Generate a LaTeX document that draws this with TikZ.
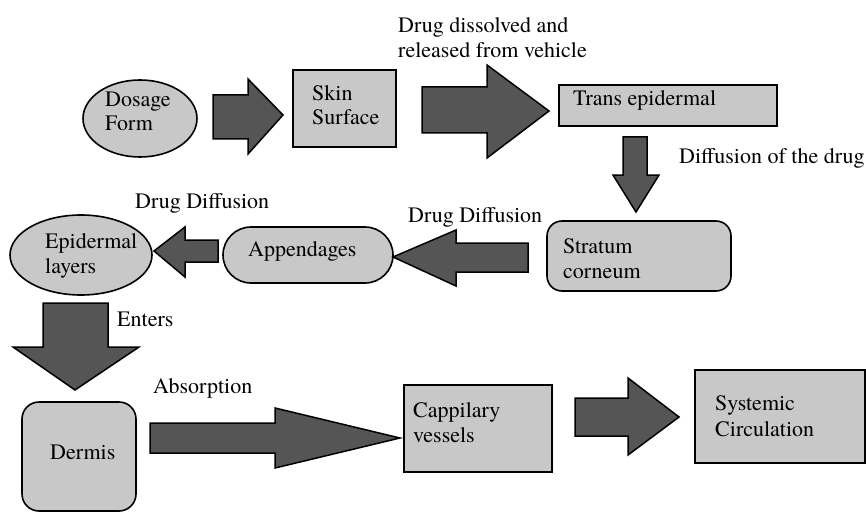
\documentclass[tikz,border=0pt]{standalone}
\usepackage{fontspec}
\setmainfont{TeX Gyre Termes}
\usetikzlibrary{shapes.geometric}
\definecolor{boxgray}{RGB}{200,200,200}
\definecolor{arrowgray}{RGB}{85,85,85}
\begin{document}
\begin{tikzpicture}[x=1pt,y=-1pt,
  box/.style={draw=black, fill=boxgray, line width=1.6pt, inner sep=0pt},
  oval/.style={box, ellipse},
  fat/.style={draw=black, fill=arrowgray, line width=1.5pt, line join=miter},
  lbl/.style={anchor=base west, inner sep=0pt, font=\rmfamily\fontsize{22}{25}\selectfont}]
\useasboundingbox (0,0) rectangle (866,513);

% shapes
\node[oval, minimum width=114, minimum height=77] (dosage) at (140,118.5) {};
\node[box, minimum width=103, minimum height=77] (skin) at (344.5,108.5) {};
\node[box, minimum width=218, minimum height=41] (trans) at (668,105.5) {};
\node[box, rounded corners=15, minimum width=184, minimum height=70] (stratum) at (639,256) {};
\node[box, rounded corners=28, minimum width=170, minimum height=56] (append) at (308,255) {};
\node[oval, minimum width=142, minimum height=80] (epid) at (81,255) {};
\node[box, rounded corners=17, minimum width=114, minimum height=109] (dermis) at (79,456.5) {};
\node[box, minimum width=148, minimum height=87] (capp) at (478,428.5) {};
\node[box, minimum width=170, minimum height=93] (syst) at (780,416.5) {};

% block arrows
\draw[fat] (213,95) -- (248,95) -- (248,79) -- (283,115) -- (248,154) -- (248,139) -- (213,139) -- cycle;
\draw[fat] (422,87) -- (487,87) -- (487,65) -- (549,111) -- (487,158) -- (487,133) -- (422,133) -- cycle;
\draw[fat] (623,137) -- (647,137) -- (647,175) -- (659,175) -- (636,212) -- (613,175) -- (623,175) -- cycle;
\draw[fat] (528,243) -- (456,243) -- (456,230) -- (393,257) -- (456,286) -- (456,272) -- (528,272) -- cycle;
\draw[fat] (218,240) -- (185,240) -- (185,227) -- (154,251) -- (185,277) -- (185,262) -- (218,262) -- cycle;
\draw[fat] (43,303) -- (108,303) -- (108,347) -- (139,347) -- (75,390) -- (13,347) -- (43,347) -- cycle;
\draw[fat] (150,423) -- (275,423) -- (275,408) -- (400,438) -- (275,468) -- (275,453) -- (150,453) -- cycle;
\draw[fat] (575,398) -- (628,398) -- (628,378) -- (679,417) -- (628,455) -- (628,436) -- (575,436) -- cycle;

% texts
\node[lbl] (t1a) at (105,107) {Dosage};
\node[lbl] (t1b) at (105,131) {Form};
\node[lbl] (t2a) at (312,101) {Skin};
\node[lbl] (t2b) at (312,125) {Surface};
\node[lbl] (t3a) at (398,33) {Drug dissolved and};
\node[lbl] (t3b) at (398,58) {released from vehicle};
\node[lbl] (t4) at (573,106) {Trans epidermal};
\node[lbl] (t5) at (679,164) {Diffusion of the drug};
\node[lbl] (t6a) at (563,253) {Stratum};
\node[lbl] (t6b) at (563,278) {corneum};
\node[lbl] (t7) at (408,222) {Drug Diffusion};
\node[lbl] (t8) at (248,256) {Appendages};
\node[lbl] (t9) at (135,208) {Drug Diffusion};
\node[lbl] (t10a) at (45,248) {Epidermal};
\node[lbl] (t10b) at (45,273) {layers};
\node[lbl] (t11) at (117,326) {Enters};
\node[lbl] (t12) at (153,393) {Absorption};
\node[lbl] (t13) at (50,459) {Dermis};
\node[lbl] (t14a) at (413,417) {Cappilary};
\node[lbl] (t14b) at (413,442) {vessels};
\node[lbl] (t15a) at (715,410) {Systemic};
\node[lbl] (t15b) at (715,436) {Circulation};
\end{tikzpicture}
\end{document}
